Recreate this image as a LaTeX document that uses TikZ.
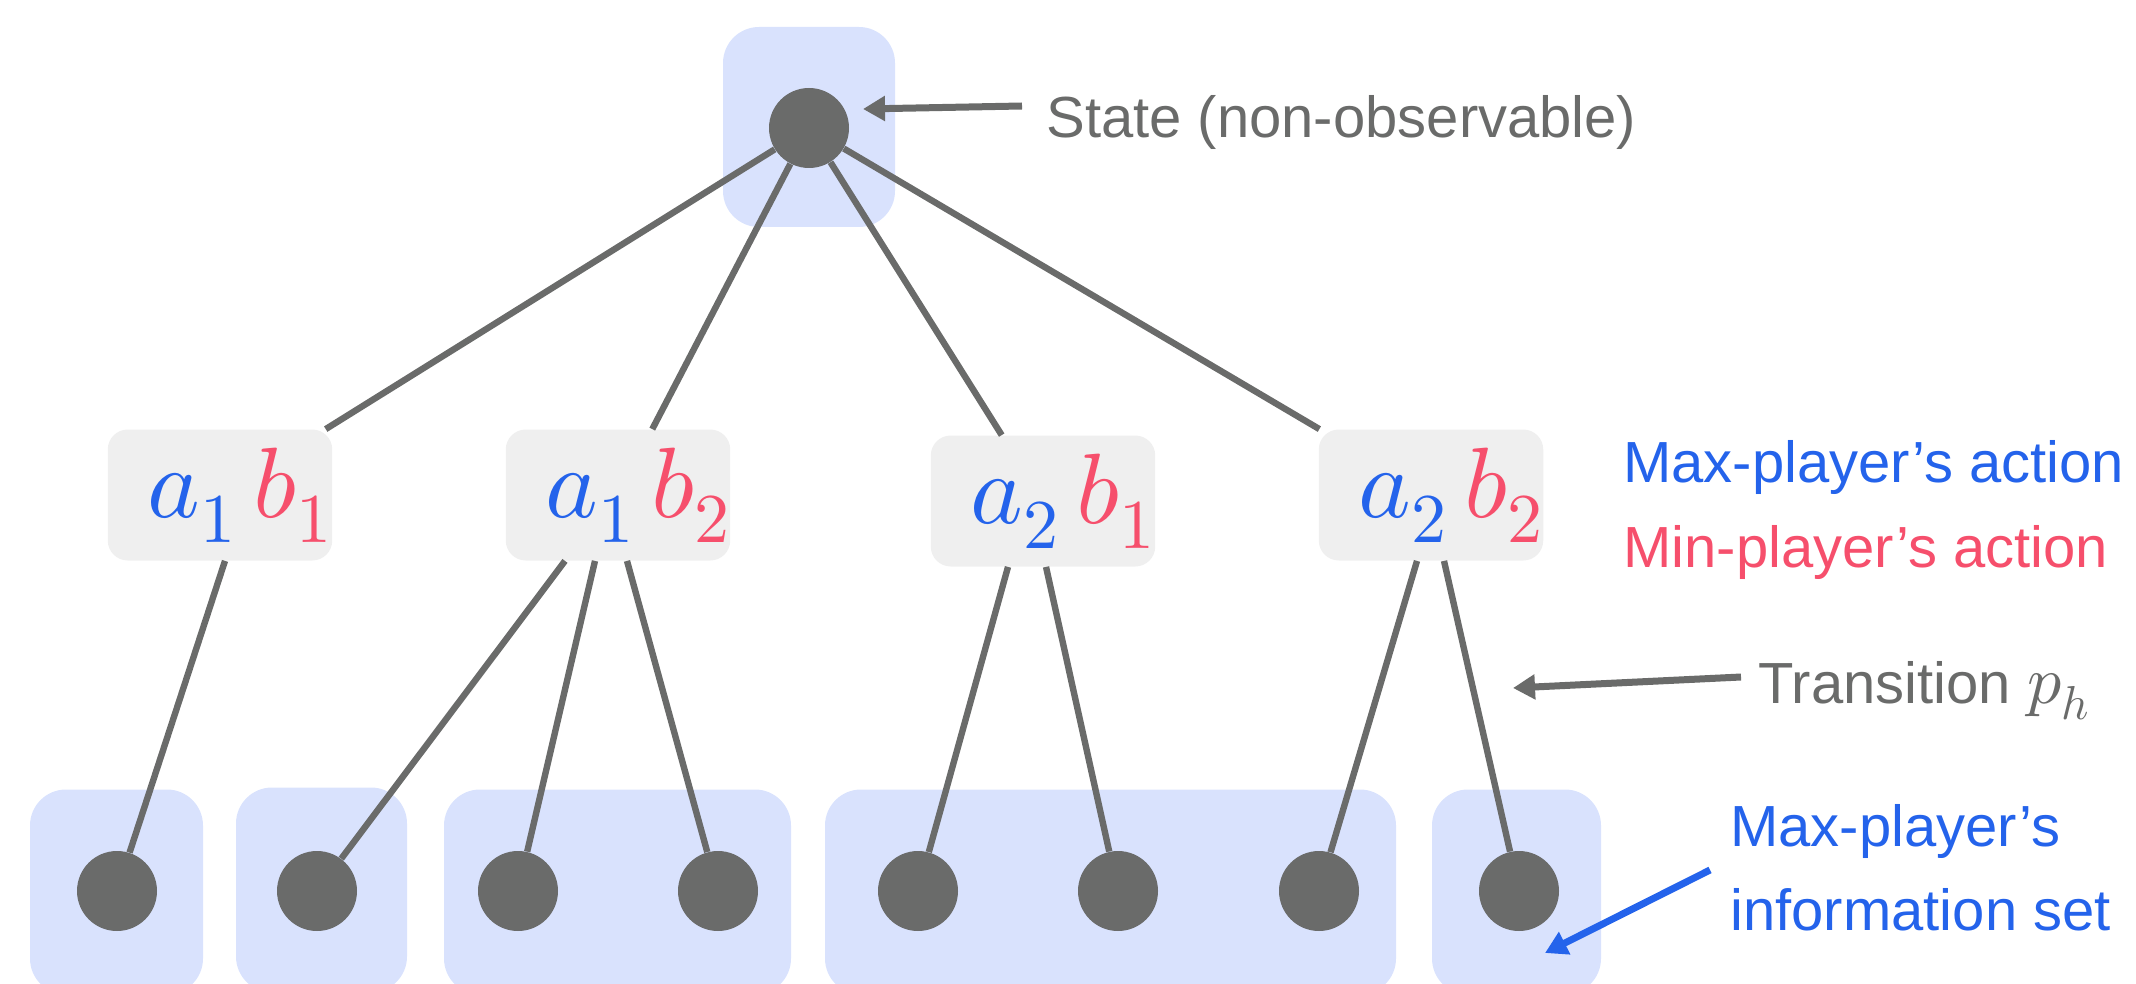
\documentclass[tikz,border=0pt]{standalone}
\usepackage{fontspec}
\usepackage{unicode-math}
\setmainfont{Liberation Sans}
\setmathfont{Latin Modern Math}
\usetikzlibrary{positioning,arrows.meta}
\definecolor{edgegray}{RGB}{106,107,106}
\definecolor{maxblue}{RGB}{36,99,235}
\definecolor{minred}{RGB}{246,79,108}
\definecolor{setblue}{RGB}{217,226,253}
\definecolor{boxgray}{RGB}{239,239,239}
\newcommand{\ab}[2]{\hspace*{20pt}$\textcolor{maxblue}{a_{#1}}\,\textcolor{minred}{b_{#2}}$}

\begin{document}
\begin{tikzpicture}[x=0.5pt,y=-0.5pt,
  every node/.style={font=\fontsize{29}{42}\selectfont},
  infoset/.style={fill=setblue,rounded corners=18pt,minimum height=102.5pt,inner sep=0pt},
  act/.style={fill=boxgray,rounded corners=10pt,minimum width=111pt,minimum height=65.5pt,
              inner sep=0pt,font=\fontsize{50}{56}\selectfont},
  st/.style={circle,fill=edgegray,minimum size=40pt,inner sep=0pt},
  edge/.style={draw=edgegray,line width=3.2pt},
  ptr/.style={line width=3.5pt,-{Triangle[length=11pt,width=12pt]}},
  lab/.style={anchor=base west,inner sep=0pt}
]
\useasboundingbox (0,0) rectangle (2136,984);

% information sets
\node[infoset,minimum width=86pt,minimum height=100pt] (rootset) at (809,127) {};
\node[infoset,minimum width=86.5pt]  (s1) at (116.5,892) {};
\node[infoset,minimum width=85.5pt]  (s2) at (321.5,890) {};
\node[infoset,minimum width=173.5pt] (s3) at (617.5,892) {};
\node[infoset,minimum width=285.5pt] (s4) at (1110.5,892) {};
\node[infoset,minimum width=84.5pt]  (s5) at (1516.5,892) {};

% joint actions
\node[act] (ab11) at (220,495)  {\ab{1}{1}};
\node[act] (ab12) at (618,495)  {\ab{1}{2}};
\node[act] (ab21) at (1043,501) {\ab{2}{1}};
\node[act] (ab22) at (1431,495) {\ab{2}{2}};

\node[st] (root) at (809,128) {};
\foreach \n/\x in {1/117,2/317,3/518,4/718,5/918,6/1118,7/1319,8/1519}
  \node[st] (l\n) at (\x,891) {};

\foreach \b in {ab11,ab12,ab21,ab22}
  \draw[edge] (root) -- (\b);

\draw[edge] ([xshift=2.5pt]ab11.south)   -- (l1);
\draw[edge] ([xshift=-26.5pt]ab12.south) -- (l2);
\draw[edge] ([xshift=-11.5pt]ab12.south) -- (l3);
\draw[edge] ([xshift=4.5pt]ab12.south)   -- (l4);
\draw[edge] ([xshift=-17.5pt]ab21.south) -- (l5);
\draw[edge] ([xshift=1.5pt]ab21.south)   -- (l6);
\draw[edge] ([xshift=-7pt]ab22.south)    -- (l7);
\draw[edge] ([xshift=6.5pt]ab22.south)   -- (l8);

% labels on the right
\node[lab,text=edgegray] (statelbl) at (1046,138) {State (non-observable)};
\node[lab,text=maxblue]  (maxlbl)   at (1623,482) {Max-player’s action};
\node[lab,text=minred]   (minlbl)   at (1623,567) {Min-player’s action};
\node[lab,text=edgegray] (translbl) at (1758,703) {Transition {\fontsize{34}{40}\selectfont$p_h$}};
\node[lab,text=maxblue,align=left,anchor=north west] (setlbl) at (1730,804)
  {Max-player’s\\information set};

\coordinate (statetip) at (863,109);
\coordinate (transtip) at (1513,688);
\coordinate (settip)   at (1545,953);
\draw[ptr,edgegray] ([xshift=-12pt,yshift=16pt]statelbl.base west) -- (statetip);
\draw[ptr,edgegray] ([xshift=-8.5pt,yshift=13pt]translbl.base west) -- (transtip);
\draw[ptr,maxblue]  ([xshift=-10pt,yshift=-33pt]setlbl.north west) -- (settip);
\end{tikzpicture}
\end{document}
